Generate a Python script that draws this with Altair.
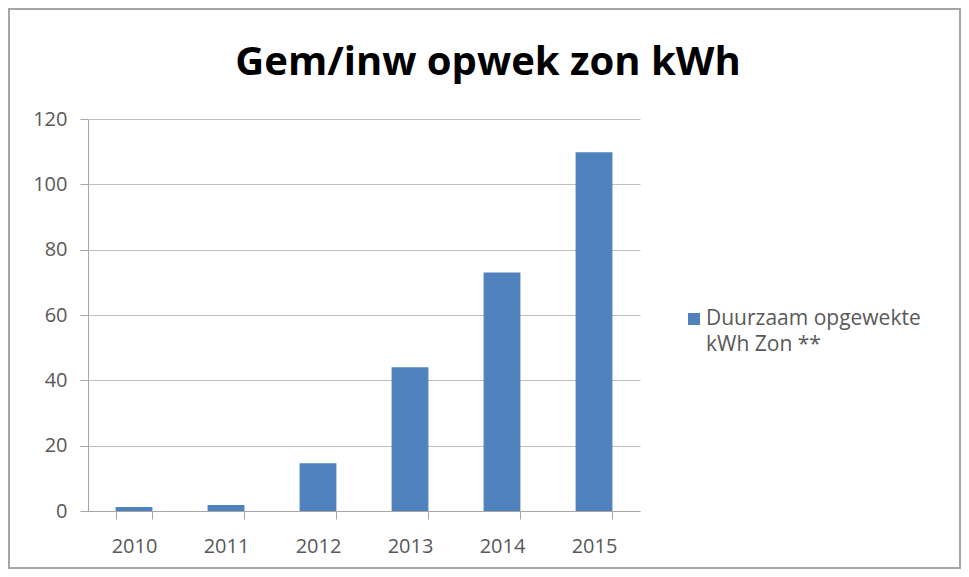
import altair as alt
import pandas as pd

# ---- data ----
years = ["2010", "2011", "2012", "2013", "2014", "2015"]
values = [1.2, 1.8, 14.6, 44.0, 73.0, 109.8]
series_name = "Duurzaam opgewekte kWh Zon **"
legend_lines = ["Duurzaam opgewekte", "kWh Zon **"]
title_text = "Gem/inw opwek zon kWh"
y_ticks = [0, 20, 40, 60, 80, 100, 120]

FONT = "Open Sans"
BLUE = "#4f81bd"
LABEL = "#595959"
LINE = "#a6a6a6"

df = pd.DataFrame({"year": years, "value": values, "series": [series_name] * len(years)})

W, H = 552, 392

color_scale = alt.Scale(domain=[series_name], range=[BLUE])

bars = alt.Chart(df).mark_bar(color=BLUE).encode(
    x=alt.X(
        "year:N",
        title=None,
        scale=alt.Scale(paddingInner=0.6, paddingOuter=0.3),
        axis=alt.Axis(
            labelAngle=0,
            labelFont=FONT,
            labelFontSize=20,
            labelColor=LABEL,
            labelPadding=17,
            tickBand="extent",
            tickSize=8,
            tickColor=LINE,
            domainColor=LINE,
            grid=False,
        ),
    ),
    y=alt.Y(
        "value:Q",
        title=None,
        scale=alt.Scale(domain=[0, 120], nice=False),
        axis=alt.Axis(
            values=y_ticks,
            labelFont=FONT,
            labelFontSize=20,
            labelColor=LABEL,
            labelPadding=13,
            tickSize=8,
            tickColor=LINE,
            domainColor=LINE,
            gridColor="#bfbfbf",
            gridWidth=1,
        ),
    ),
    color=alt.Color("series:N", scale=color_scale, legend=None),
)

one = pd.DataFrame({"series": [series_name], "title": [title_text],
                    "legend": ["\n".join(legend_lines)]})

frame = alt.Chart(one).mark_rect(fill="white", fillOpacity=0, stroke=LINE, strokeWidth=2).encode(
    x=alt.value(-79), x2=alt.value(872), y=alt.value(-110), y2=alt.value(449)
)

title = alt.Chart(one).mark_text(
    font=FONT, fontSize=40, fontWeight="bold", color="black", align="center", baseline="alphabetic"
).encode(text="title:N", x=alt.value(400), y=alt.value(-44))

legend_symbol = alt.Chart(one).mark_square(size=144, opacity=1).encode(
    x=alt.value(606), y=alt.value(200),
    color=alt.Color("series:N", scale=color_scale, legend=None),
)

legend_text = alt.Chart(one).mark_text(
    font=FONT, fontSize=21, color=LABEL, align="left", baseline="middle",
    lineBreak="\n", lineHeight=26,
).encode(text="legend:N", x=alt.value(618), y=alt.value(200))

chart = alt.layer(frame, bars, title, legend_symbol, legend_text).properties(
    width=W, height=H, padding=0, background="white"
).configure_view(stroke=None)

chart.save("out.html", embed_options={"renderer": "svg", "actions": False})
